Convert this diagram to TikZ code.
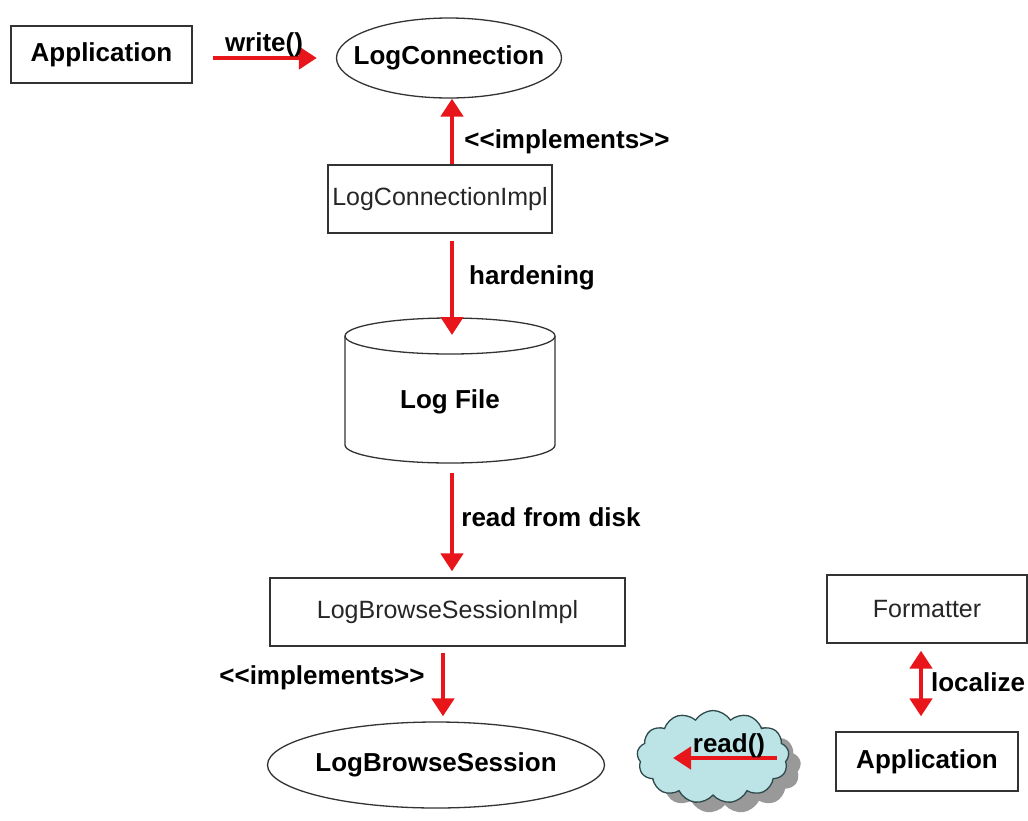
\documentclass[tikz,border=0pt]{standalone}
\usepackage{fontspec}
\setmainfont{Liberation Sans}
\usetikzlibrary{shapes.geometric,shapes.symbols,arrows.meta,calc}
\definecolor{arrred}{HTML}{E8161B}
\definecolor{cloudfill}{HTML}{BCE3E6}
\definecolor{cloudline}{HTML}{2E4A4A}
\begin{document}
\begin{tikzpicture}[x=1pt,y=-1pt,
 box/.style={draw=black!80,line width=1.3pt,rectangle,inner sep=0pt},
 oval/.style={draw=black!80,line width=1.3pt,ellipse,inner sep=0pt},
 bold/.style={font=\fontsize{26}{30}\selectfont\bfseries},
 thin/.style={font=\fontsize{25}{30}\selectfont,text=black!85},
 lbl/.style={font=\fontsize{26}{30}\selectfont\bfseries,inner sep=0pt},
 redarrow/.style={draw=arrred,line width=4.8pt,-{Triangle[length=18pt,width=22pt]}},
 dblarrow/.style={draw=arrred,line width=4.8pt,{Triangle[length=18pt,width=22pt]}-{Triangle[length=18pt,width=22pt]}},
 cloudshape/.style={cloud,cloud puffs=13,cloud puff arc=115,aspect=1.6,inner sep=0pt,minimum width=152pt,minimum height=93pt}]
\useasboundingbox (0,0) rectangle (1028,820);
\fill[white] (0,0) rectangle (1028,820);

% nodes
\node[box,bold,minimum width=181pt,minimum height=57pt] (app1) at (101.5,54.5) {Application};
\node[oval,bold,minimum width=225pt,minimum height=80pt] (lc) at (449,58) {\makebox[0pt]{LogConnection}};
\node[box,thin,minimum width=224pt,minimum height=68pt] (lci) at (440,199) {LogConnectionImpl};

% cylinder
\draw[black!80,line width=1.3pt,fill=white] (345,336) -- (345,445)
  arc[start angle=180,end angle=0,x radius=105,y radius=18] -- (555,336);
\draw[black!80,line width=1.3pt,fill=white] (450,336) ellipse [x radius=105,y radius=18];
\node[bold,inner sep=0pt] (lf) at (450,402) {Log File};

\node[box,thin,minimum width=355pt,minimum height=68pt] (lbsi) at (447.5,612) {LogBrowseSessionImpl};
\node[oval,bold,minimum width=337pt,minimum height=86pt] (lbs) at (436,765) {\makebox[0pt]{LogBrowseSession}};
\node[box,thin,minimum width=200pt,minimum height=68pt] (fmt) at (927,609) {Formatter};
\node[box,bold,minimum width=182pt,minimum height=59pt] (app2) at (927,761.5) {Application};

% cloud
\node[cloudshape,fill=black!40,draw=none] (cloudshadow) at (725,767) {};
\node[cloudshape,fill=cloudfill,draw=cloudline,line width=1.3pt] (cloud) at (713,757) {};

% connectors
\draw[redarrow] ($(app1.east |- lc.west)+(20,0)$) -- ($(lc.west)+(-19,0)$);
\coordinate (a1) at ($(lci.north)+(12,0)$);
\draw[redarrow] (a1) -- (a1 |- lc.south);
\coordinate (a2) at ($(lci.south)+(12,7)$);
\coordinate (lftop) at (452,335);
\draw[redarrow] (a2) -- (lftop);
\coordinate (a3) at (452,473);
\draw[redarrow,shorten >=6pt] (a3) -- (a3 |- lbsi.north);
\coordinate (a4) at ($(lbsi.south)+(-4.5,6)$);
\draw[redarrow,shorten >=5pt] (a4) -- (a4 |- lbs.north);
\coordinate (a5) at ($(fmt.south)+(-6,7)$);
\draw[dblarrow,shorten >=15pt] (a5) -- (a5 |- app2.north);
\coordinate (r1) at ($(cloud.center)+(64,1)$);
\coordinate (r2) at ($(cloud.center)+(-40,1)$);
\draw[redarrow] (r1) -- (r2);

% labels
\node[lbl] (lwrite) at (264,45) {write()};
\node[lbl] (limpl1) at (567,142) {{<}{<}implements{>}{>}};
\node[lbl] (lhard) at (532,278) {hardening};
\node[lbl] (lread) at (551,517) {read from disk};
\node[lbl] (limpl2) at (322,678) {{<}{<}implements{>}{>}};
\node[lbl] (lloc) at (978,682) {localize};
\node[lbl] (lreadf) at (729,746) {read()};
\end{tikzpicture}
\end{document}
